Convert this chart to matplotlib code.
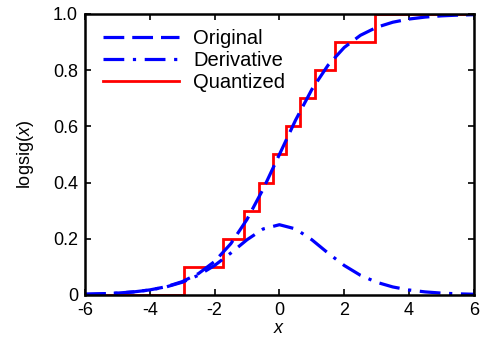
import matplotlib
matplotlib.use("Agg")
import matplotlib.pyplot as plt
import numpy as np

plt.rcParams['font.family'] = ['Liberation Sans', 'DejaVu Sans']
plt.rcParams['axes.unicode_minus'] = False
plt.rcParams['mathtext.fontset'] = 'custom'
plt.rcParams['mathtext.it'] = 'Liberation Sans:italic'
plt.rcParams['mathtext.rm'] = 'Liberation Sans'

# sampled curve values
x_vals = [-6.0, -5.5, -5.0, -4.5, -4.0, -3.5, -3.0, -2.5, -2.0, -1.5, -1.0, -0.5,
          0.0, 0.5, 1.0, 1.5, 2.0, 2.5, 3.0, 3.5, 4.0, 4.5, 5.0, 5.5, 6.0]
original = [0.0025, 0.0041, 0.0067, 0.0110, 0.0180, 0.0293, 0.0474, 0.0759, 0.1192,
            0.1824, 0.2689, 0.3775, 0.5000, 0.6225, 0.7311, 0.8176, 0.8808, 0.9241,
            0.9526, 0.9707, 0.9820, 0.9890, 0.9933, 0.9959, 0.9975]
derivative = [0.0025, 0.0041, 0.0066, 0.0109, 0.0177, 0.0285, 0.0452, 0.0701, 0.1050,
              0.1492, 0.1966, 0.2350, 0.2500, 0.2350, 0.1966, 0.1492, 0.1050, 0.0701,
              0.0452, 0.0285, 0.0177, 0.0109, 0.0066, 0.0041, 0.0025]

# quantized step function
q_edges = [-6.0, -2.94, -1.73, -1.10, -0.62, -0.20, 0.20, 0.62, 1.10, 1.73, 2.94, 6.0]
q_levels = [0.0, 0.1, 0.2, 0.3, 0.4, 0.5, 0.6, 0.7, 0.8, 0.9, 1.0]

fig = plt.figure(figsize=(4.83, 3.41), dpi=100)
ax = fig.add_axes([0.176, 0.135, 0.805, 0.824])

ax.plot(x_vals, original, color='blue', linewidth=2.3, dashes=(6.5, 2.5), label='Original')
ax.plot(x_vals, derivative, color='blue', linewidth=2.3, dashes=(6.5, 2.7, 1, 2.7), label='Derivative')
ax.stairs(q_levels, q_edges, baseline=None, color='red', linewidth=2.0, label='Quantized')

ax.set_xlim(-6, 6)
ax.set_ylim(0, 1.0)
ax.set_xticks([-6, -4, -2, 0, 2, 4, 6])
ax.set_yticks([0, 0.2, 0.4, 0.6, 0.8, 1.0])
ax.set_yticklabels(['0', '0.2', '0.4', '0.6', '0.8', '1.0'])
ax.tick_params(direction='in', top=True, right=True, length=4, width=1.2, labelsize=13)
ax.tick_params(axis='x', pad=5)
ax.tick_params(axis='y', pad=5)
for s in ax.spines.values():
    s.set_linewidth(1.8)

ax.set_xlabel(r'$x$', fontsize=13, labelpad=1)
ax.set_ylabel(r'logsig($x$)', fontsize=13, labelpad=12)

leg = ax.legend(loc='upper left', frameon=False, fontsize=14.5, handlelength=3.8,
                handletextpad=0.7, labelspacing=0.15, borderaxespad=0.0,
                bbox_to_anchor=(0.025, 0.975))

fig.savefig('out.png', dpi=100)
